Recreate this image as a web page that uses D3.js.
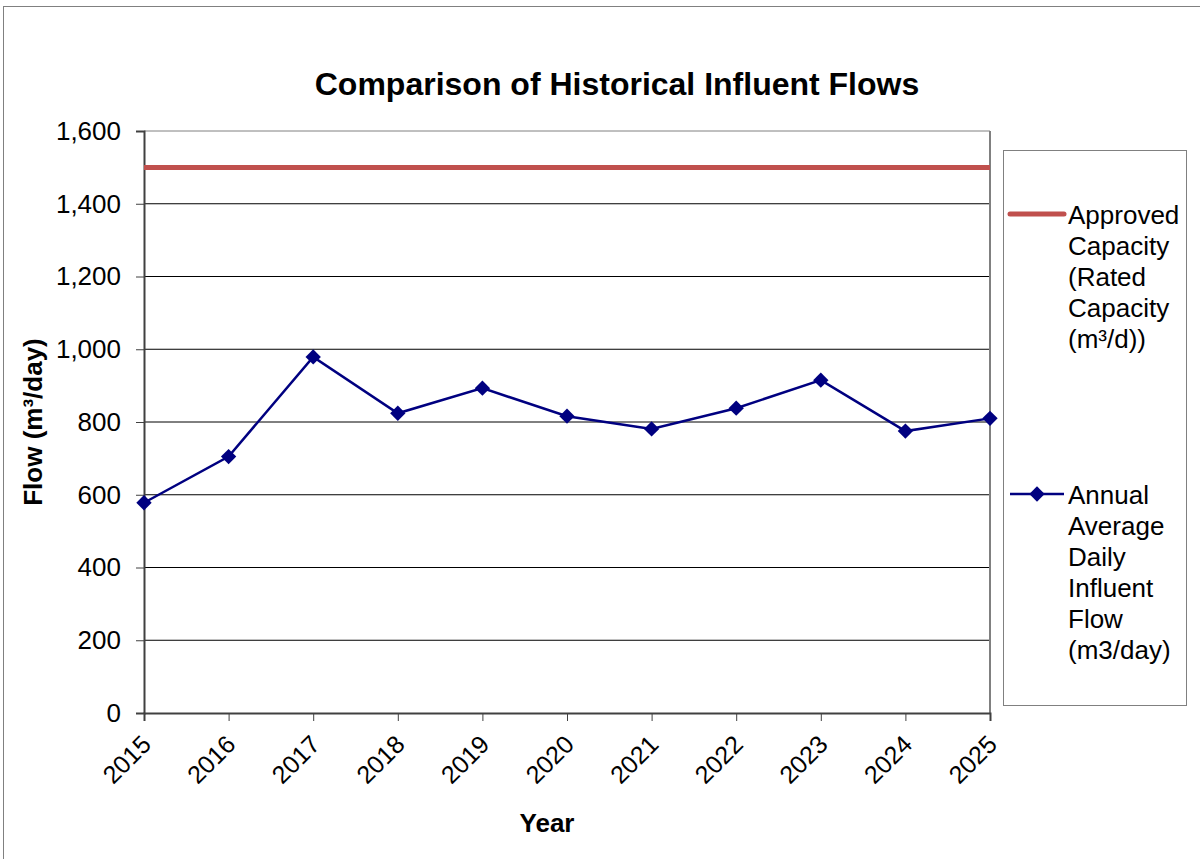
<!DOCTYPE html>
<html>
<head>
<meta charset="utf-8">
<script src="https://cdn.jsdelivr.net/npm/d3@7"></script>
<style>
  body { margin: 0; background: #fff; }
  text { font-family: "Liberation Sans", Arial, sans-serif; }
</style>
</head>
<body>
<svg id="chart" width="1200" height="859"></svg>
<script>
// chart data
var years = [2015, 2016, 2017, 2018, 2019, 2020, 2021, 2022, 2023, 2024, 2025];
var avgFlow = [578, 705, 979, 824, 893, 816, 781, 838, 915, 775, 810];
var ratedCapacity = 1500;
var yTicks = [0, 200, 400, 600, 800, 1000, 1200, 1400, 1600];

var svg = d3.select("#chart");
var plotL = 144, plotR = 990, plotT = 131, plotB = 713;

// outer frame
svg.append("rect")
   .attr("x", 3.5).attr("y", 6.5).attr("width", 1210).attr("height", 860)
   .attr("fill", "none").attr("stroke", "#808080").attr("stroke-width", 1);

var x = d3.scalePoint().domain(years).range([plotL, plotR]);
var y = d3.scaleLinear().domain([0, 1600]).range([plotB, plotT]);

// grid
svg.append("g").selectAll("line")
   .data(yTicks.filter(function(d) { return d > 0; }))
   .enter().append("line")
   .attr("x1", plotL).attr("x2", plotR)
   .attr("y1", function(d) { return y(d); }).attr("y2", function(d) { return y(d); })
   .attr("stroke", function(d) { return d == 1600 ? "#808080" : "#000"; })
   .attr("stroke-width", 1);

// right edge of plot
svg.append("line").attr("x1", plotR).attr("x2", plotR).attr("y1", plotT).attr("y2", plotB)
   .attr("stroke", "#808080").attr("stroke-width", 2);

// y axis
var yAxis = svg.append("g").attr("transform", "translate(" + plotL + ",0)")
   .call(d3.axisLeft(y).tickValues(yTicks).tickSize(8).tickPadding(15).tickFormat(d3.format(",")));
yAxis.select(".domain").attr("stroke", "#404040").attr("stroke-width", 2);
yAxis.selectAll(".tick line").attr("stroke", "#404040");
yAxis.selectAll("text").style("font-size", "26px").attr("fill", "#000")
   .style("font-family", "'Liberation Sans', Arial, sans-serif");

// x axis
var xAxis = svg.append("g").attr("transform", "translate(0," + plotB + ")")
   .call(d3.axisBottom(x).tickSize(8).tickPadding(4));
xAxis.select(".domain").attr("stroke", "#404040").attr("stroke-width", 2);
xAxis.selectAll(".tick line").attr("stroke", "#404040");
xAxis.selectAll("text").style("font-size", "25px").attr("fill", "#000")
   .style("font-family", "'Liberation Sans', Arial, sans-serif")
   .attr("text-anchor", "end")
   .attr("y", 0).attr("dy", 0)
   .attr("transform", "translate(8,33) rotate(-45)");

// capacity line
svg.append("line")
   .attr("x1", plotL).attr("x2", plotR)
   .attr("y1", y(ratedCapacity)).attr("y2", y(ratedCapacity))
   .attr("stroke", "#c0504d").attr("stroke-width", 5);

// flow series
var line = d3.line()
   .x(function(d, i) { return x(years[i]); })
   .y(function(d) { return y(d); });
svg.append("path").datum(avgFlow)
   .attr("d", line).attr("fill", "none")
   .attr("stroke", "#000080").attr("stroke-width", 2.5);

var diamond = d3.symbol().type(d3.symbolDiamond2).size(150);
svg.append("g").selectAll("path")
   .data(avgFlow).enter().append("path")
   .attr("d", diamond)
   .attr("transform", function(d, i) { return "translate(" + x(years[i]) + "," + y(d) + ")"; })
   .attr("fill", "#000080");

// title and axis labels
svg.append("text").attr("x", 617).attr("y", 95).attr("text-anchor", "middle")
   .style("font-size", "32px").style("font-weight", "bold")
   .text("Comparison of Historical Influent Flows");
svg.append("text").attr("x", 547).attr("y", 832).attr("text-anchor", "middle")
   .style("font-size", "26px").style("font-weight", "bold")
   .text("Year");
svg.append("text").attr("transform", "translate(42,422) rotate(-90)").attr("text-anchor", "middle")
   .style("font-size", "26px").style("font-weight", "bold")
   .text("Flow (m³/day)");

// legend
var legend = svg.append("g");
legend.append("rect")
   .attr("x", 1003.5).attr("y", 150.5).attr("width", 183).attr("height", 555)
   .attr("fill", "#fff").attr("stroke", "#808080").attr("stroke-width", 1);

var capLabel = ["Approved", "Capacity", "(Rated", "Capacity", "(m³/d))"];
var flowLabel = ["Annual", "Average", "Daily", "Influent", "Flow", "(m3/day)"];

legend.append("line").attr("x1", 1010).attr("x2", 1064).attr("y1", 214).attr("y2", 214)
   .attr("stroke", "#c0504d").attr("stroke-width", 5).attr("stroke-linecap", "round");
legend.append("text").attr("x", 1068).attr("y", 224)
   .style("font-size", "26px")
   .selectAll("tspan").data(capLabel).enter().append("tspan")
   .attr("x", 1068).attr("dy", function(d, i) { return i ? 31 : 0; })
   .text(function(d) { return d; });

legend.append("line").attr("x1", 1010).attr("x2", 1064).attr("y1", 494).attr("y2", 494)
   .attr("stroke", "#000080").attr("stroke-width", 2.5);
legend.append("path").attr("d", diamond).attr("transform", "translate(1037,494)").attr("fill", "#000080");
legend.append("text").attr("x", 1068).attr("y", 504)
   .style("font-size", "26px")
   .selectAll("tspan").data(flowLabel).enter().append("tspan")
   .attr("x", 1068).attr("dy", function(d, i) { return i ? 31 : 0; })
   .text(function(d) { return d; });
</script>
</body>
</html>
